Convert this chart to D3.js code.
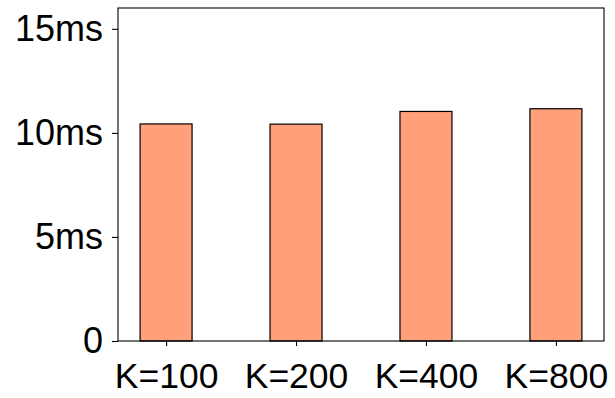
<!DOCTYPE html>
<html><head><meta charset="utf-8">
<script src="https://cdn.jsdelivr.net/npm/d3@7"></script>
<style>body{margin:0;background:#fff}svg{display:block}</style>
</head><body>
<script>
const categories = ["K=100","K=200","K=400","K=800"];
const values = [10.43, 10.42, 11.03, 11.16];
const yTicks = [0, 5, 10, 15];
const yTickLabels = ["0","5ms","10ms","15ms"];

const W = 615, H = 398;
const L = 118, R = 604, T = 8, B = 341;
const svg = d3.select("body").append("svg").attr("width", W).attr("height", H);
const font = "Arial, 'Liberation Sans', sans-serif";

const x = d3.scaleLinear().domain([-0.37, categories.length - 1 + 0.37]).range([L, R]);
const y = d3.scaleLinear().domain([0, 16]).range([B, T]);
const bw = x(0.4) - x(0);

svg.selectAll("rect.bar").data(values).enter().append("rect")
  .attr("class","bar")
  .attr("x", (d,i) => x(i) - bw/2)
  .attr("y", d => y(d))
  .attr("width", bw)
  .attr("height", d => y(0) - y(d))
  .attr("fill", "#FFA07A")
  .attr("stroke", "#000")
  .attr("stroke-width", 1.2);

const yAxis = d3.axisLeft(y).tickValues(yTicks).tickFormat((d,i) => yTickLabels[i]).tickSize(6).tickPadding(9);
const gy = svg.append("g").attr("transform", `translate(${L},0)`).call(yAxis);
gy.select(".domain").remove();
gy.selectAll("line").attr("stroke","#000").attr("stroke-width",1.1);
gy.selectAll("text").attr("font-family", font).attr("font-size", 36).attr("fill","#000");

const xAxis = d3.axisBottom(x).tickValues(d3.range(categories.length)).tickFormat(i => categories[i]).tickSize(5).tickPadding(17);
const gx = svg.append("g").attr("transform", `translate(0,${B})`).call(xAxis);
gx.select(".domain").remove();
gx.selectAll("line").attr("stroke","#000").attr("stroke-width",1.1);
gx.selectAll("text").attr("font-family", font).attr("font-size", 35.5).attr("fill","#000");

svg.append("rect").attr("x", L).attr("y", T).attr("width", R - L).attr("height", B - T)
  .attr("fill","none").attr("stroke","#000").attr("stroke-width",1.1);
</script>
</body></html>
